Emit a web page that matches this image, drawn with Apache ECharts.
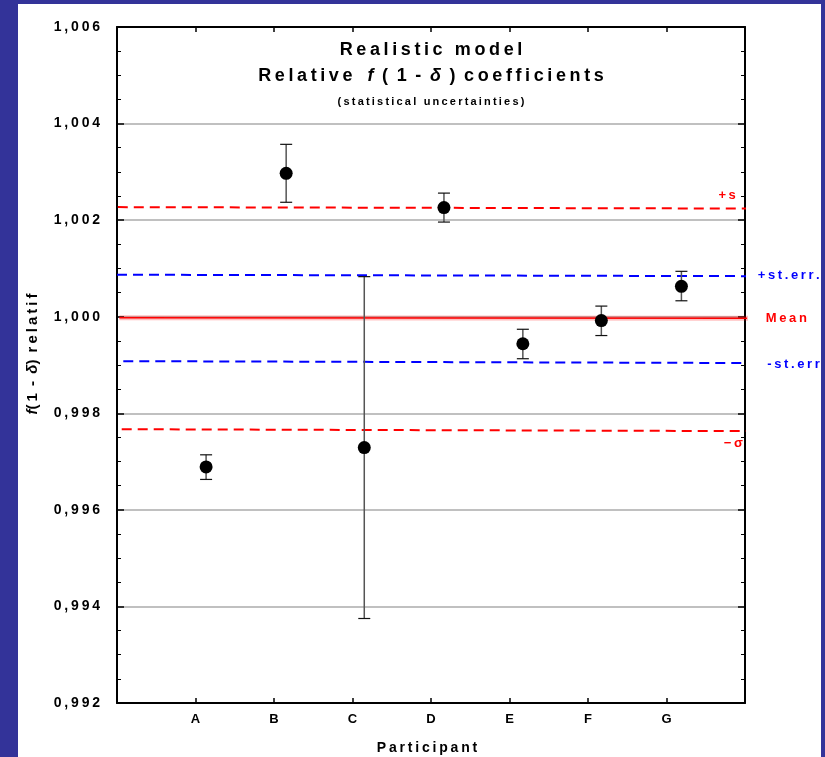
<!DOCTYPE html>
<html>
<head>
<meta charset="utf-8">
<script src="https://cdn.jsdelivr.net/npm/echarts@6/dist/echarts.min.js"></script>
<style>
html,body{margin:0;padding:0;background:#333399;width:825px;height:757px;overflow:hidden}
#panel{position:absolute;left:18px;top:4px;width:803px;height:753px;background:#fff}
</style>
</head>
<body>
<div id="panel"></div>
<script>
// participants and their (slightly shifted) x positions
var participants = ['A', 'B', 'C', 'D', 'E', 'F', 'G'];
var xPos = [1.135, 2.155, 3.15, 4.165, 5.17, 6.17, 7.19];
var coeff = [0.99689, 1.00297, 0.99729, 1.00226, 0.99944, 0.99992, 1.00063];
var errLow = [0.99663, 1.00237, 0.99375, 1.00196, 0.99913, 0.99961, 1.00033];
var errHigh = [0.99714, 1.00357, 1.00083, 1.00256, 0.99974, 1.00022, 1.00094];

// reference lines, [x, y] start and end
var plusS = [[0.01, 1.00227], [8.10, 1.00224]];
var plusErr = [[0.0, 1.00087], [8.06, 1.00084]];
var meanLine = [[0.03, 0.99998], [8.10, 0.99997]];
var minusErr = [[0.08, 0.99908], [8.22, 0.99904]];
var minusS = [[0.06, 0.99767], [8.15, 0.99763]];

var yMin = 0.992, yMax = 1.006, yStep = 0.002;

var FONT = '"Liberation Sans", Arial, sans-serif';
var NB = '\u00a0';
var GAP = NB + '\u2009';
function sp(s) { return s.split('').join('\u2009'); }

var chart = echarts.init(document.getElementById('panel'));

function refLine(name, pts, color, dashed, width) {
  return {
    name: name, type: 'line', data: pts, symbol: 'none', clip: false,
    silent: true, z: 4, animation: false,
    lineStyle: { color: color, width: width, type: dashed ? [10, 6] : 'solid' }
  };
}

var axisLine = { show: true, onZero: false, lineStyle: { color: '#000', width: 2 } };

chart.setOption({
  animation: false,
  grid: { left: 99, right: 76, top: 23, bottom: 54 },
  xAxis: [{
    type: 'value', min: 0, max: 8, interval: 1,
    axisLine: axisLine,
    axisTick: { inside: true, length: 5, lineStyle: { color: '#000', width: 1.5 } },
    splitLine: { show: false },
    axisLabel: {
      margin: 10, color: '#000', fontFamily: FONT, fontWeight: 'bold', fontSize: 13,
      formatter: function (v) { return participants[v - 1] || ''; }
    }
  }, {
    type: 'value', position: 'top', min: 0, max: 8, interval: 1,
    axisLine: axisLine,
    axisTick: { inside: true, length: 5, lineStyle: { color: '#000', width: 1.5 } },
    splitLine: { show: false }, axisLabel: { show: false }
  }],
  yAxis: [{
    type: 'value', min: yMin, max: yMax, interval: yStep,
    axisLine: axisLine,
    axisTick: { inside: true, length: 7, lineStyle: { color: '#000', width: 1.5 } },
    minorTick: { show: true, splitNumber: 4, length: 4, lineStyle: { color: '#000', width: 1 } },
    splitLine: { show: true, lineStyle: { color: '#c0c0c0', width: 2 } },
    axisLabel: {
      margin: 17, color: '#000', fontFamily: FONT, fontWeight: 'bold', fontSize: 14,
      formatter: function (v) { return sp(v.toFixed(3).replace('.', ',')); }
    }
  }, {
    type: 'value', position: 'right', min: yMin, max: yMax, interval: yStep,
    axisLine: axisLine,
    axisTick: { inside: true, length: 7, lineStyle: { color: '#000', width: 1.5 } },
    minorTick: { show: true, splitNumber: 4, length: 4, lineStyle: { color: '#000', width: 1 } },
    splitLine: { show: false }, axisLabel: { show: false }
  }],
  series: [
    refLine('+s', plusS, '#ff0000', true, 2),
    refLine('+st.err.', plusErr, '#0000ff', true, 2),
    {
      type: 'line', data: meanLine, symbol: 'none', clip: false, silent: true, z: 3,
      lineStyle: { color: 'rgba(255,0,0,0.25)', width: 5 }
    },
    refLine('Mean', meanLine, '#ff0000', false, 1.5),
    refLine('-st.err', minusErr, '#0000ff', true, 2),
    refLine('-s', minusS, '#ff0000', true, 2),
    {
      type: 'custom', z: 5,
      data: xPos.map(function (x, i) { return [x, errLow[i], errHigh[i]]; }),
      encode: { x: 0, y: [1, 2] },
      renderItem: function (params, api) {
        var x = api.value(0);
        var lo = api.coord([x, api.value(1)]);
        var hi = api.coord([x, api.value(2)]);
        var cap = 6;
        var capStyle = { stroke: '#111', lineWidth: 1.2 };
        return {
          type: 'group',
          children: [
            { type: 'line', shape: { x1: lo[0], y1: lo[1], x2: hi[0], y2: hi[1] }, style: { stroke: '#555', lineWidth: 1.5 } },
            { type: 'line', shape: { x1: hi[0] - cap, y1: hi[1], x2: hi[0] + cap, y2: hi[1] }, style: capStyle },
            { type: 'line', shape: { x1: lo[0] - cap, y1: lo[1], x2: lo[0] + cap, y2: lo[1] }, style: capStyle }
          ]
        };
      }
    },
    {
      type: 'scatter', z: 6, symbol: 'circle', symbolSize: 13,
      itemStyle: { color: '#000', opacity: 1 },
      data: xPos.map(function (x, i) { return [x, coeff[i]]; })
    }
  ]
});

// titles and labels, placed after axes exist
var labels = [
  { text: '+s', pts: plusS, color: '#ff0000', dx: -17, dy: -13, align: 'right' },
  { text: '+st.err.', pts: plusErr, color: '#0000ff', dx: 8, dy: -1, align: 'left' },
  { text: 'Mean', pts: meanLine, color: '#ff0000', dx: 13, dy: 0, align: 'left' },
  { text: '-st.err', pts: minusErr, color: '#0000ff', dx: 5, dy: 1, align: 'left' },
  { text: '\u2212\u03c3', pts: minusS, color: '#ff0000', dx: -14, dy: 12, align: 'right' }
];

var g = labels.map(function (l) {
  var p = chart.convertToPixel({ gridIndex: 0 }, l.pts[1]);
  return {
    type: 'text', x: p[0] + l.dx, y: p[1] + l.dy,
    style: {
      text: sp(l.text), fill: l.color, font: 'bold 13px ' + FONT,
      textAlign: l.align, textVerticalAlign: 'middle'
    }
  };
});

var cx = 413;
g.push(
  { type: 'text', x: cx, y: 46, style: { text: sp('Realistic model'), fill: '#000', font: 'bold 18px ' + FONT, textAlign: 'center', textVerticalAlign: 'middle' } },
  {
    type: 'text', x: cx, y: 72,
    style: {
      text: '{b|' + sp('Relative') + NB + NB + NB + '}{i|f}{b|' + GAP + '(' + GAP + '1' + GAP + '-' + GAP + '}{i|\u03b4}{b|' + GAP + ')' + GAP + sp('coefficients') + '}',
      textAlign: 'center', textVerticalAlign: 'middle',
      rich: {
        b: { font: 'bold 18px ' + FONT, fill: '#000' },
        i: { font: 'italic bold 18px ' + FONT, fill: '#000' }
      }
    }
  },
  { type: 'text', x: cx, y: 98, style: { text: sp('(statistical uncertainties)'), fill: '#000', font: 'bold 11px ' + FONT, textAlign: 'center', textVerticalAlign: 'middle' } },
  { type: 'text', x: 409, y: 744, style: { text: sp('Participant'), fill: '#000', font: 'bold 14px ' + FONT, textAlign: 'center', textVerticalAlign: 'middle' } },
  {
    type: 'text', x: 15, y: 350, rotation: Math.PI / 2,
    style: {
      text: '{i|f}{b|' + sp('(1') + GAP + '-' + GAP + '}{i|\u03b4}{b|)' + GAP + sp('relatif') + '}',
      textAlign: 'center', textVerticalAlign: 'middle',
      rich: {
        b: { font: 'bold 15px ' + FONT, fill: '#000' },
        i: { font: 'italic bold 15px ' + FONT, fill: '#000' }
      }
    }
  }
);

chart.setOption({ graphic: g });
</script>
</body>
</html>
